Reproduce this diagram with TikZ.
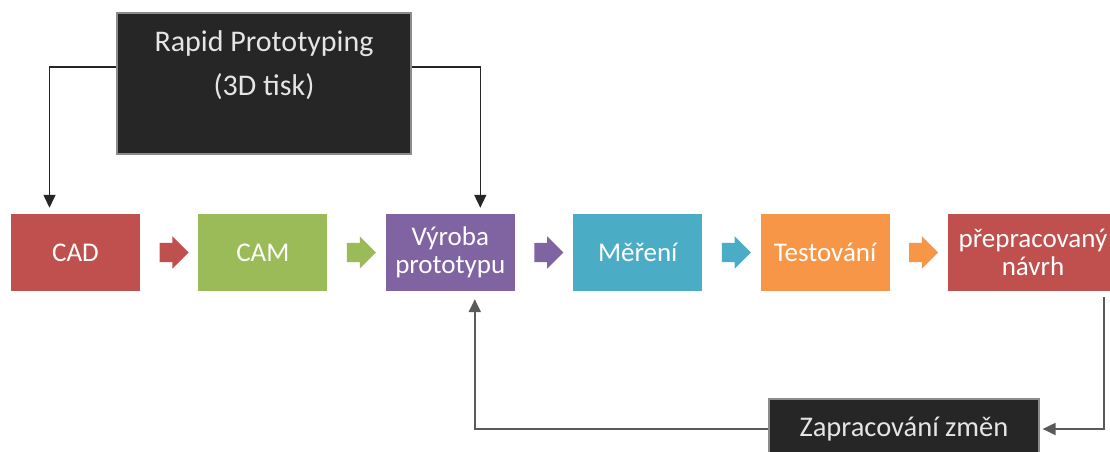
\documentclass[tikz,border=0pt]{standalone}
\usepackage{fontspec}
\setmainfont{Carlito}
\usetikzlibrary{arrows.meta,positioning,calc,shapes.arrows}
\definecolor{stepRed}{HTML}{C0504D}
\definecolor{stepGreen}{HTML}{9BBB59}
\definecolor{stepPurple}{HTML}{8064A2}
\definecolor{stepAqua}{HTML}{4BACC6}
\definecolor{stepOrange}{HTML}{F79646}
\definecolor{darkFill}{HTML}{262626}
\definecolor{lineGray}{HTML}{5A5A5A}
\tikzset{
  stepbox/.style={draw=none, text=white, align=center, minimum width=129pt,
                  minimum height=77pt, inner sep=2pt, font=\fontsize{27}{28}\selectfont},
  darkbox/.style={draw=black!45, line width=1.2pt, fill=darkFill, text=white!90!black,
                  align=center, inner sep=2pt, font=\fontsize{30}{44}\selectfont},
  blockarrow/.style={single arrow, draw=none, fill=#1, minimum height=29pt,
                     inner xsep=2pt, inner ysep=9.5pt, single arrow head extend=6.5pt,
                     single arrow tip angle=90},
  link/.style={-{Triangle[length=13pt,width=12pt]}, line width=1.5pt, draw=black!85},
  backlink/.style={link, line width=2pt, draw=lineGray}
}

\begin{document}
\begin{tikzpicture}[x=1pt, y=-1pt, node distance=58pt]
\useasboundingbox (0,0) rectangle (1110,452);
% top box
\node[darkbox, minimum width=294pt, minimum height=141pt] (rapid) at (264,83.5)
  {Rapid Prototyping\\(3D tisk)\rule[-40pt]{0pt}{40pt}};
% process row
\node[stepbox, fill=stepRed] (cad) at (75.5,252.5) {CAD};
\node[stepbox, fill=stepGreen, right=of cad] (cam) {CAM};
\node[stepbox, fill=stepPurple, right=of cam] (vyroba) {Výroba\\prototypu};
\node[stepbox, fill=stepAqua, right=of vyroba] (mereni) {Měření};
\node[stepbox, fill=stepOrange, right=of mereni] (testovani) {Testování};
\node[stepbox, fill=stepRed, right=of testovani, minimum width=170pt] (navrh)
  {přepracovaný\\návrh};
\foreach \a/\b/\c [count=\i] in {cad/cam/stepRed, cam/vyroba/stepGreen,
    vyroba/mereni/stepPurple, mereni/testovani/stepAqua, testovani/navrh/stepOrange}
  \node[blockarrow=\c] (arr\i) at ($(\a.east)!0.5!(\b.west)$) {};
% feedback box
\node[darkbox, minimum width=270pt, minimum height=60pt,
      font=\fontsize{28.5}{30}\selectfont] (zmeny) at (904,429) {Zapracování změn};
% connectors
\draw[link, shorten >=6pt] ([yshift=16.5pt]rapid.west) -| ([xshift=-26pt]cad.north);
\draw[link, shorten >=6pt] ([yshift=16.5pt]rapid.east) -| ([xshift=30pt]vyroba.north);
\draw[backlink, shorten >=3pt] ([xshift=71pt, yshift=-6pt]navrh.south) |- (zmeny.east);
\draw[backlink, shorten >=8pt] (zmeny.west) -| ([xshift=24.5pt]vyroba.south);
\end{tikzpicture}
\end{document}
